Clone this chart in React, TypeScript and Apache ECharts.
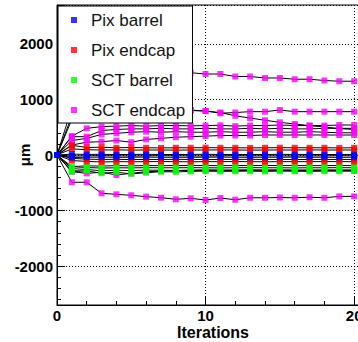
import React, { useEffect, useRef } from "react";
import * as echarts from "echarts";

// Alignment iterations on the x axis
const iterations = [0, 1, 2, 3, 4, 5, 6, 7, 8, 9, 10, 11, 12, 13, 14, 15, 16, 17, 18, 19, 20];

// Per-structure corrections (µm), one row per aligned degree of freedom
const pixBarrel: number[][] = [
  [0, 15, 10, 12, 8, 10, 12, 10, 8, 10, 12, 10, 10, 8, 10, 12, 10, 10, 8, 10, 10],
  [0, -20, -15, -12, -15, -18, -15, -12, -15, -15, -18, -15, -12, -15, -15, -15, -18, -15, -15, -12, -15],
  [0, -45, -40, -38, -42, -40, -38, -40, -42, -40, -40, -38, -40, -42, -40, -40, -38, -40, -40, -42, -40],
];

const pixEndcap: number[][] = [
  [0, 175, 135, 140, 130, 135, 130, 128, 130, 130, 132, 130, 130, 128, 130, 132, 130, 130, 130, 128, 130],
  [0, 110, 95, 90, 92, 88, 90, 90, 88, 90, 90, 92, 90, 88, 90, 90, 90, 92, 90, 90, 90],
  [0, -60, -75, -80, -78, -82, -80, -80, -78, -80, -82, -80, -80, -78, -80, -80, -82, -80, -80, -80, -80],
  [0, -100, -115, -125, -120, -122, -120, -118, -120, -122, -120, -120, -118, -120, -122, -120, -120, -120, -118, -120, -120],
];

const sctBarrel: number[][] = [
  [0, -210, -195, -200, -190, -195, -190, -192, -190, -188, -190, -192, -190, -190, -188, -190, -190, -192, -190, -190, -190],
  [0, -240, -225, -235, -230, -232, -228, -230, -230, -228, -230, -232, -230, -228, -230, -230, -232, -230, -230, -228, -230],
  [0, -280, -260, -285, -275, -280, -272, -275, -278, -275, -272, -275, -278, -275, -275, -272, -275, -278, -275, -275, -275],
  [0, -300, -285, -330, -310, -340, -320, -300, -305, -295, -290, -295, -292, -290, -295, -290, -292, -295, -290, -292, -290],
];

const sctEndcap: number[][] = [
  [0, 850, 1250, 1400, 1460, 1490, 1500, 1495, 1490, 1481, 1458, 1458, 1413, 1413, 1386, 1386, 1364, 1364, 1341, 1328, 1328],
  [0, 700, 790, 820, 820, 815, 810, 805, 800, 800, 792, 752, 765, 780, 780, 810, 780, 780, 780, 780, 780],
  [0, 640, 760, 800, 820, 830, 830, 825, 820, 810, 790, 765, 705, 665, 625, 588, 558, 528, 505, 475, 460],
  [0, 340, 480, 510, 520, 530, 520, 530, 530, 525, 530, 535, 520, 530, 530, 540, 530, 530, 530, 540, 540],
  [0, 330, 330, 440, 460, 470, 470, 480, 470, 470, 480, 470, 470, 480, 470, 480, 470, 470, 480, 480, 480],
  [0, 260, 300, 370, 390, 410, 420, 410, 420, 410, 410, 420, 410, 410, 420, 410, 410, 420, 410, 400, 400],
  [0, 180, 230, 240, 260, 230, 280, 300, 320, 330, 340, 350, 350, 350, 360, 360, 360, 360, 360, 360, 360],
  [0, -300, -330, -310, -360, -330, -300, -290, -280, -275, -270, -272, -270, -268, -270, -270, -272, -270, -270, -270, -270],
  [0, -491, -491, -690, -708, -726, -750, -768, -798, -780, -810, -775, -805, -770, -770, -765, -770, -760, -770, -745, -745],
];

const legendNames = ["Pix barrel", "Pix endcap", "SCT barrel", "SCT endcap"];

// Drawing order: later groups end up on top
const groups = [
  { name: "SCT endcap", color: "#ff00ff", curves: sctEndcap },
  { name: "SCT barrel", color: "#00ff00", curves: sctBarrel },
  { name: "Pix endcap", color: "#ff0000", curves: pixEndcap },
  { name: "Pix barrel", color: "#0000ff", curves: pixBarrel },
];

const FONT = "'Liberation Sans', Arial, Helvetica, sans-serif";

function buildOption(): echarts.EChartsOption {
  const markerSeries: any[] = [];
  const lineSeries: any[] = [];
  groups.forEach((g) => {
    g.curves.forEach((vals) => {
      const data = iterations.map((x, i) => [x, vals[i]]);
      markerSeries.push({
        type: "scatter",
        name: g.name,
        data,
        symbol: "rect",
        symbolSize: 6,
        itemStyle: { color: g.color },
        z: 3,
        silent: true,
      });
      lineSeries.push({
        type: "line",
        name: g.name,
        data,
        showSymbol: false,
        symbol: "none",
        itemStyle: { color: g.color },
        lineStyle: { color: "#000", width: 1 },
        z: 2,
        silent: true,
      });
    });
  });

  return {
    animation: false,
    backgroundColor: "#fff",
    grid: {
      left: 57,
      top: 5,
      right: -11,
      bottom: 37,
      show: true,
      borderColor: "#000",
      borderWidth: 1,
      backgroundColor: "transparent",
      outerBoundsMode: "none",
    } as any,
    legend: {
      data: legendNames,
      orient: "vertical",
      left: 58,
      top: 6,
      icon: "rect",
      itemWidth: 6,
      itemHeight: 6,
      itemGap: 12,
      padding: [5, 7, 4, 13],
      backgroundColor: "#fff",
      borderColor: "#000",
      borderWidth: 1,
      borderRadius: 0,
      selectedMode: false,
      textStyle: {
        fontSize: 17,
        fontFamily: FONT,
        color: "#111",
        lineHeight: 18,
        padding: [0, 0, 0, 9],
      },
    },
    xAxis: {
      type: "value",
      min: 0,
      max: 21,
      interval: 10,
      name: "Iterations",
      nameLocation: "middle",
      nameGap: 19,
      nameMoveOverlap: false,
      nameTextStyle: { fontSize: 16, fontWeight: "bold", fontFamily: FONT, color: "#000" },
      axisLine: { show: true, onZero: false, lineStyle: { color: "#000", width: 1 } },
      axisTick: { show: true, inside: true, length: 8, lineStyle: { color: "#000" } },
      minorTick: { show: true, splitNumber: 5, length: 4, lineStyle: { color: "#000" } },
      axisLabel: {
        fontSize: 15,
        fontWeight: "bold",
        fontFamily: FONT,
        color: "#000",
        margin: 3,
        showMaxLabel: false,
        formatter: (v: number) => (v % 10 === 0 ? String(v) : ""),
      },
      splitLine: { show: true, lineStyle: { color: "#000", width: 1, type: [1, 2] } },
    } as any,
    yAxis: {
      type: "value",
      min: -2700,
      max: 2700,
      splitNumber: 5,
      name: "μm",
      nameLocation: "middle",
      nameRotate: 90,
      nameGap: 25,
      nameMoveOverlap: false,
      nameTextStyle: { fontSize: 15, fontWeight: "bold", fontFamily: FONT, color: "#000" },
      axisLine: { show: true, onZero: false, lineStyle: { color: "#000", width: 1 } },
      axisTick: { show: true, inside: true, length: 8, lineStyle: { color: "#000" } },
      minorTick: { show: true, splitNumber: 5, length: 4, lineStyle: { color: "#000" } },
      axisLabel: {
        fontSize: 15,
        fontWeight: "bold",
        fontFamily: FONT,
        color: "#000",
        margin: 4,
        showMinLabel: false,
        showMaxLabel: false,
        formatter: (v: number) => (v % 1000 === 0 ? String(v) : ""),
      },
      splitLine: { show: true, lineStyle: { color: "#000", width: 1, type: [1, 2] } },
    } as any,
    series: [...markerSeries, ...lineSeries],
  };
}

export default function App() {
  const ref = useRef<HTMLDivElement>(null);
  useEffect(() => {
    if (!ref.current) return;
    const chart = echarts.init(ref.current, null, { renderer: "svg" });
    chart.setOption(buildOption());
    return () => chart.dispose();
  }, []);
  return (
    <div
      ref={ref}
      style={{ position: "fixed", left: 0, top: 0, width: 358, height: 342, background: "#fff" }}
    />
  );
}
